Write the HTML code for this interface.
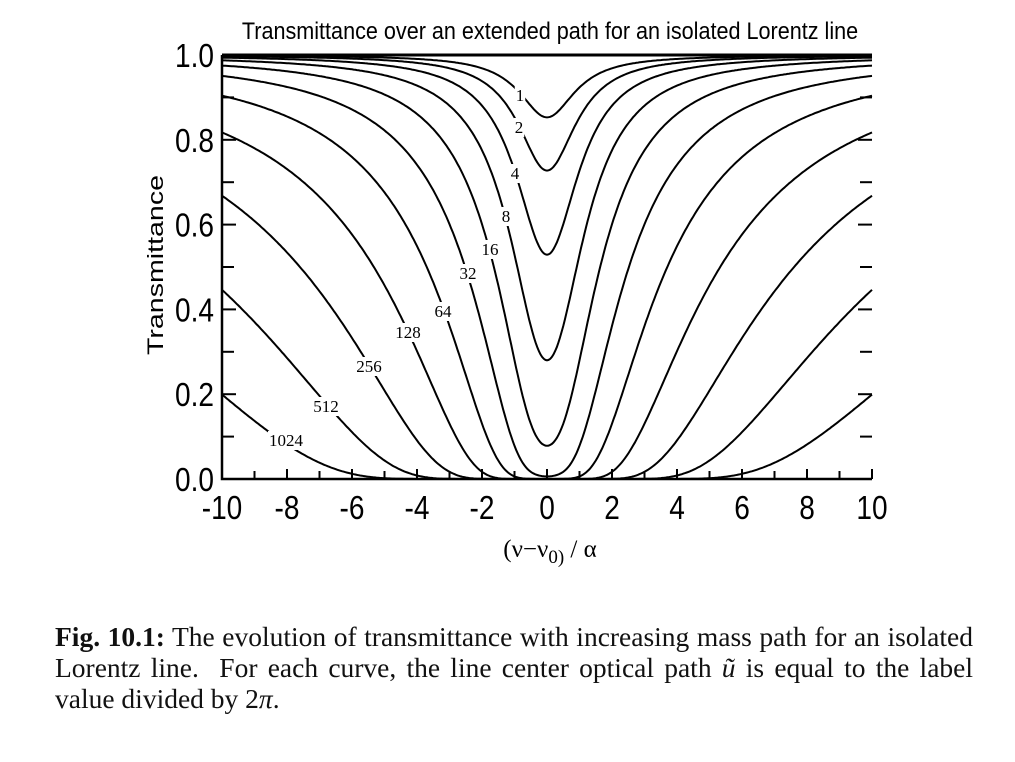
<!DOCTYPE html>
<html><head><meta charset="utf-8"><style>
body{margin:0;background:#fff;width:1015px;height:762px;overflow:hidden;position:relative;font-family:"Liberation Sans",sans-serif}
.cap{position:absolute;left:55px;top:621px;width:918px;font-family:"Liberation Serif",serif;font-size:27.5px;line-height:31px;text-align:justify;color:#111}
</style></head><body>
<svg width="1015" height="600" style="position:absolute;left:0;top:0">
<g id="curves" fill="none" stroke="#000" stroke-width="2"></g>
<g id="axes" stroke="#000" stroke-width="2.5"></g>
<g font-family="Liberation Serif,serif" font-size="17" text-anchor="middle" id="lbl">
<text x="520" y="101">1</text><text x="519" y="133">2</text><text x="515" y="179">4</text><text x="506" y="222">8</text><text x="490" y="255">16</text><text x="468" y="279">32</text><text x="443" y="317">64</text><text x="408" y="338">128</text><text x="369" y="372">256</text><text x="326" y="412">512</text><text x="286" y="446">1024</text>
</g>
<text transform="translate(550,39) scale(0.9,1)" font-size="24" text-anchor="middle">Transmittance over an extended path for an isolated Lorentz line</text>
<text transform="translate(163,265) rotate(-90) scale(1.3,1)" font-size="22" text-anchor="middle">Transmittance</text>
<g font-size="33" text-anchor="end" id="yl"></g>
<g font-size="33" text-anchor="middle" id="xl"></g>
<text x="550" y="557" font-family="Liberation Serif,serif" font-size="25" text-anchor="middle">(ν−ν<tspan font-size="19" dy="6">0)</tspan><tspan dy="-6"> / α</tspan></text>
</svg>
<div class="cap"><b>Fig. 10.1:</b> The evolution of transmittance with increasing mass path for an isolated Lorentz line.&nbsp; For each curve, the line center optical path <i>ũ</i> is equal to the label value divided by 2<i>π</i>.</div>
<script>
var L=222,R=872,T=55,B=479,NS="http://www.w3.org/2000/svg";
function X(v){return L+(v+10)*(R-L)/20}function Y(t){return B-t*(B-T)}
function el(p,t,a){var e=document.createElementNS(NS,t);for(var k in a)e.setAttribute(k,a[k]);p.appendChild(e);return e}
var cg=document.getElementById('curves');
[1,2,4,8,16,32,64,128,256,512,1024].forEach(function(n){var d="";for(var i=0;i<=400;i++){var x=-10+i*0.05;var t=Math.exp(-(n/(2*Math.PI))/(1+x*x));d+=(i?"L":"M")+X(x).toFixed(1)+","+Y(t).toFixed(1)}el(cg,'path',{d:d})});
document.querySelectorAll('#lbl text').forEach(function(t){var b=t.getBBox();var r=el(t.parentNode,'rect',{x:b.x-1,y:b.y,width:b.width+2,height:b.height,fill:'#fff'});t.parentNode.insertBefore(r,t)});
var ag=document.getElementById('axes');
el(ag,'path',{d:"M"+L+","+T+"V"+B+"H"+R,fill:"none"});
el(ag,'path',{d:"M"+L+","+T+"H"+R,fill:"none","stroke-width":"3"});
for(var v=-10;v<=10;v++){el(ag,'line',{x1:X(v),x2:X(v),y1:B,y2:B-(v%2==0?10:8),"stroke-width":2})}
for(var k=1;k<10;k++){var y=Y(k/10),w=(k%2==0?14:12);el(ag,'line',{x1:L,x2:L+w,y1:y,y2:y,"stroke-width":2});el(ag,'line',{x1:R,x2:R-w,y1:y,y2:y,"stroke-width":2})}
var yl=document.getElementById('yl');
["0.0","0.2","0.4","0.6","0.8","1.0"].forEach(function(s,i){var t=el(yl,'text',{transform:"translate(214,"+(Y(i/5)+12)+") scale(0.85,1)"});t.textContent=s});
var xl=document.getElementById('xl');
for(var v=-10;v<=10;v+=2){var t=el(xl,'text',{transform:"translate("+X(v)+",519) scale(0.85,1)"});t.textContent=(v<0?"-":"")+Math.abs(v)}
</script>
</body></html>
